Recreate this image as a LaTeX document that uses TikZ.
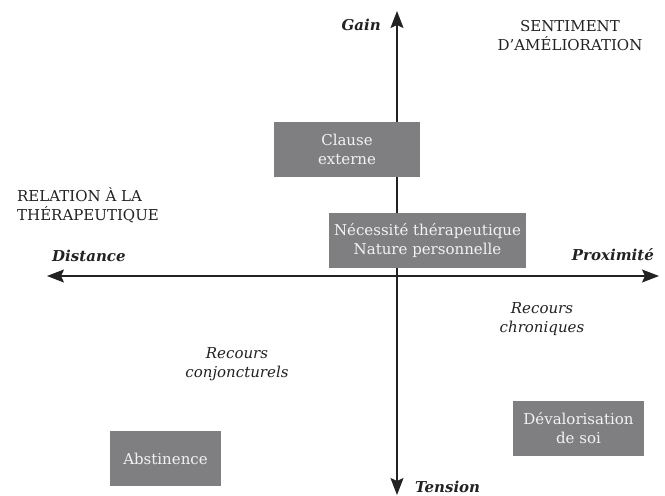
\documentclass[tikz,border=0pt]{standalone}
\usepackage{fontspec}
\setmainfont{DejaVu Serif}
\usetikzlibrary{arrows.meta}
\definecolor{boxgray}{HTML}{7F7F81}
\definecolor{ink}{HTML}{222222}
\definecolor{boxtext}{HTML}{F2F2F2}
\tikzset{
  axis/.style={line width=1.5pt, draw=ink, -{Stealth[length=17pt,width=13pt,inset=3pt]}},
  gbox/.style={fill=boxgray, draw=none, text=boxtext, inner sep=0pt, align=center,
    minimum height=55pt, font=\fontsize{15}{19}\selectfont},
  lbl/.style={text=ink, inner sep=0pt, font=\fontsize{15}{19}\selectfont},
  axlbl/.style={text=ink, inner sep=0pt, font=\fontsize{15}{19}\selectfont\bfseries\itshape},
  itlbl/.style={text=ink, inner sep=0pt, align=center, font=\fontsize{15}{19}\selectfont\itshape}
}
\begin{document}
\begin{tikzpicture}[x=1pt,y=-1pt]
\useasboundingbox (0,0) rectangle (665,496);
\coordinate (o) at (397,276);
\coordinate (top) at (397,11);
\coordinate (bot) at (397,495);
\coordinate (left) at (47,276);
\coordinate (right) at (659,276);
\draw[axis] (o) -- (top);
\draw[axis] (o) -- (bot);
\draw[axis] (o) -- (left);
\draw[axis] (o) -- (right);

\node[gbox, minimum width=146pt] (clause) at (347,149.5) {Clause\\externe};
\node[gbox, minimum width=197pt] (necess) at (427.5,240.5) {Nécessité thérapeutique\\Nature personnelle};
\node[gbox, minimum width=111pt] (abst) at (165.5,458.5) {Abstinence};
\node[gbox, minimum width=131pt] (deval) at (578.5,428.5) {Dévalorisation\\de soi};

\node[axlbl, anchor=east] (gain) at (381,25) {Gain};
\node[axlbl, anchor=west] (tension) at (415,487) {Tension};
\node[axlbl, anchor=west] (distance) at (52,256) {Distance};
\node[axlbl, anchor=east] (prox) at (654,255) {Proximité};

\node[lbl, align=center] (sentiment) at (570,35.5) {SENTIMENT\\D’AMÉLIORATION};
\node[lbl, align=left, anchor=west] (relation) at (17,205.5) {RELATION À LA\\THÉRAPEUTIQUE};

\node[itlbl] (chron) at (542,319) {Recours\\chroniques};
\node[itlbl] (conj) at (237,364) {Recours\\conjoncturels};
\end{tikzpicture}
\end{document}
